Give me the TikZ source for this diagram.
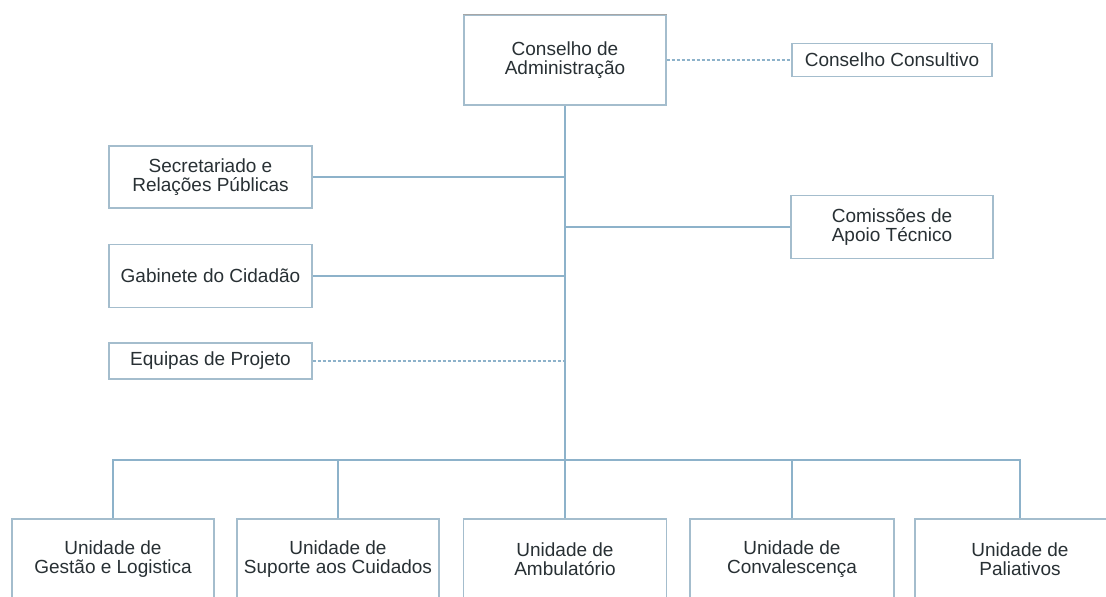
\documentclass[tikz,border=0pt]{standalone}
\usepackage{fontspec}
\setmainfont{Liberation Sans}
\begin{document}
\begin{tikzpicture}[x=1pt,y=-1pt,
  every node/.style={font=\fontsize{19}{19}\selectfont},
  unitbox/.style={draw=boxline, line width=1.1pt, fill=white, text=txt,
    align=center, inner sep=0pt, minimum width=#1},
  unitbox/.default=202pt,
  link/.style={draw=linkline, line width=1.1pt},
  dashlink/.style={draw=linkline, line width=1.1pt, dash pattern=on 3pt off 2pt}]
\definecolor{boxline}{HTML}{A4BDCD}
\definecolor{linkline}{HTML}{8DB2CA}
\definecolor{txt}{HTML}{283034}

\fill[white] (0,0) rectangle (1106,597);
\useasboundingbox (0,0) rectangle (1106,597);
\clip (0,0) rectangle (1106,597);

% governing board and its advisory council
\node[unitbox, minimum height=90pt] (admin) at (565,60) {Conselho de\\Administração};
\draw[draw=gray!70, line width=1.1pt] (admin.north west) -- (admin.north east);
\node[unitbox=200pt, minimum height=33pt] (consult) at (892,60) {Conselho Consultivo};

% staff offices on the left, technical committees on the right
\node[unitbox=203pt, minimum height=62pt] (secr) at (210.5,177) {Secretariado e\\Relações Públicas};
\node[unitbox=203pt, minimum height=63pt] (gab) at (210.5,276) {Gabinete do Cidadão};
\node[unitbox=203pt, minimum height=36pt] (equip) at (210.5,361) {Equipas de Projeto};
\node[unitbox=202pt, minimum height=63pt] (comiss) at (892,227) {Comissões de\\Apoio Técnico};

% operational units along the bottom
\coordinate (bus) at (565,460);
\node[unitbox=202pt, minimum height=80pt] (u1) at (113,559) {Unidade de\\Gestão e Logistica};
\node[unitbox=202pt, minimum height=80pt] (u2) at (338,559) {Unidade de\\Suporte aos Cuidados};
\node[unitbox=203pt, minimum height=80pt] (u3) at (565,559) {Unidade de\\Ambulatório};
\node[unitbox=204pt, minimum height=80pt] (u4) at (792,559) {Unidade de\\Convalescença};
\node[unitbox=210pt, minimum height=80pt] (u5) at (1020,559) {Unidade de\\Paliativos};

% connectors
\draw[dashlink] (admin) -- (consult);
\draw[link] (admin.south) -- (bus);
\draw[link] (secr.east) -- (secr.east -| admin.south);
\draw[link] (gab.east) -- (gab.east -| admin.south);
\draw[dashlink] (equip.east) -- (equip.east -| admin.south);
\draw[link] (comiss.west) -- (comiss.west -| admin.south);
\draw[link] (u1.north) -- (u1.north |- bus) -- (u5.north |- bus) -- (u5.north);
\draw[link] (u2.north) -- (u2.north |- bus);
\draw[link] (bus) -- (u3.north);
\draw[link] (u4.north) -- (u4.north |- bus);
\end{tikzpicture}
\end{document}
